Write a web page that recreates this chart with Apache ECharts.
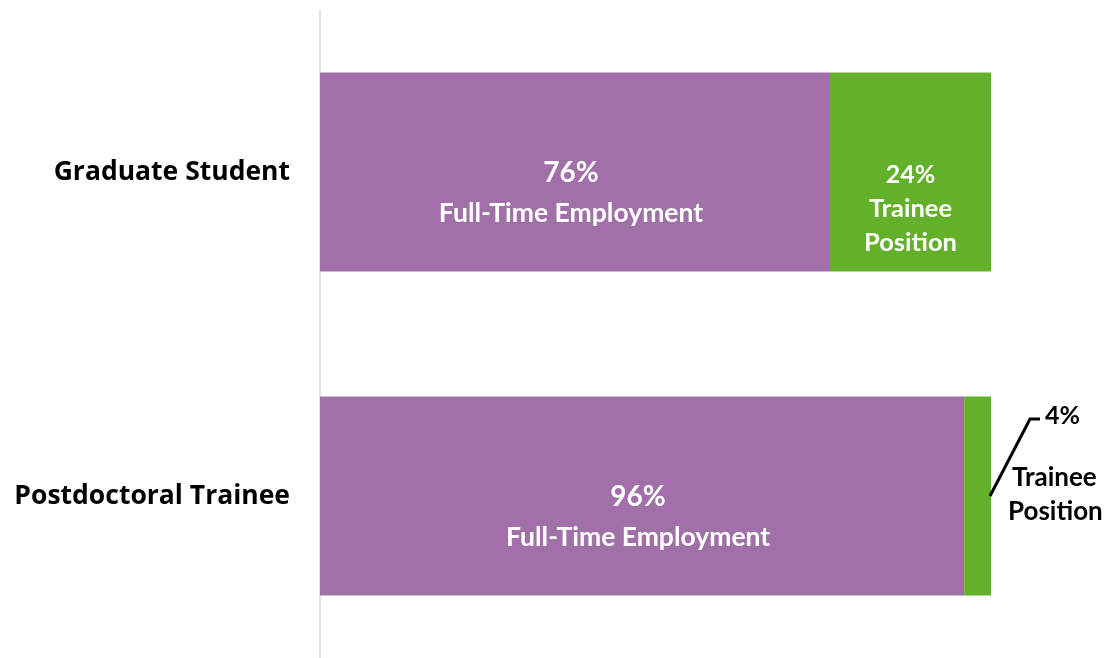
<!DOCTYPE html>
<html>
<head>
<meta charset="utf-8">
<title>Employment outcomes by trainee type</title>
<script src="https://cdn.jsdelivr.net/npm/echarts@6/dist/echarts.min.js"></script>
<style>
  html, body { margin: 0; padding: 0; background: #ffffff; }
  #chart { width: 1110px; height: 658px; }
</style>
</head>
<body>
<div id="chart"></div>
<script>
// Trainee groups (top to bottom)
const categories = ['Graduate Student', 'Postdoctoral Trainee'];
// Share of each group, in percent
const fullTimeEmployment = [76, 96];
const traineePosition = [24, 4];

const PURPLE = '#A170A8';
const GREEN = '#63B02A';
const FONT = 'Lato, "Open Sans", sans-serif';

const chart = echarts.init(document.getElementById('chart'), null, { renderer: 'canvas' });

function insideLabel(pct, text, offsetY) {
  return {
    show: true,
    position: 'inside',
    offset: [-4, offsetY],
    formatter: '{v|' + pct + '%}\n{t|' + text + '}',
    rich: {
      v: { color: '#fff', fontFamily: FONT, fontWeight: 'bold', fontSize: 28, lineHeight: 41 },
      t: { color: '#fff', fontFamily: FONT, fontWeight: 'bold', fontSize: 26.5, lineHeight: 41 }
    }
  };
}

const option = {
  animation: false,
  backgroundColor: '#ffffff',
  grid: { left: 320, right: 119, top: 10, bottom: 0, containLabel: false },
  xAxis: { type: 'value', min: 0, max: 100, show: false },
  yAxis: {
    type: 'category',
    data: categories,
    inverse: true,
    axisLine: { show: true, lineStyle: { color: '#D9D9D9', width: 1.5 } },
    axisTick: { show: false },
    axisLabel: {
      margin: 30,
      color: '#000',
      fontFamily: '"Open Sans", sans-serif',
      fontWeight: 'bold',
      fontSize: 26.5
    }
  },
  series: [
    {
      name: 'Full-Time Employment',
      type: 'bar',
      stack: 'total',
      barWidth: 199,
      itemStyle: { color: PURPLE },
      data: fullTimeEmployment.map(v => ({
        value: v,
        label: insideLabel(v, 'Full-Time Employment', 21)
      }))
    },
    {
      name: 'Trainee Position',
      type: 'bar',
      stack: 'total',
      barWidth: 199,
      itemStyle: { color: GREEN },
      data: [
        {
          value: traineePosition[0],
          label: {
            show: true,
            position: 'inside',
            offset: [0, 37],
            formatter: '{v|' + traineePosition[0] + '%}\n{t|Trainee}\n{t|Position}',
            rich: {
              v: { color: '#fff', fontFamily: FONT, fontWeight: 'bold', fontSize: 25, lineHeight: 34 },
              t: { color: '#fff', fontFamily: FONT, fontWeight: 'bold', fontSize: 25.5, lineHeight: 34 }
            }
          }
        },
        {
          value: traineePosition[1],
          label: {
            show: true,
            position: 'right',
            distance: 17,
            offset: [0, -31],
            formatter: '{v|' + traineePosition[1] + '%}\n{s| }\n{u|Trainee}\n{t|Position}',
            rich: {
              v: { color: '#000', fontFamily: FONT, fontWeight: 'bold', fontSize: 25, lineHeight: 30, padding: [0, 0, 0, 37] },
              s: { fontSize: 10, lineHeight: 30 },
              u: { color: '#000', fontFamily: FONT, fontWeight: 'bold', fontSize: 26, lineHeight: 34, padding: [0, 0, 0, 4] },
              t: { color: '#000', fontFamily: FONT, fontWeight: 'bold', fontSize: 26, lineHeight: 34 }
            }
          }
        }
      ]
    }
  ]
};

chart.setOption(option);

// Leader line for the small 4% segment, anchored to the end of its bar
function drawLeader() {
  const end = chart.convertToPixel({ xAxisIndex: 0, yAxisIndex: 0 }, [100, categories[1]]);
  const x0 = end[0] - 1, y0 = end[1];
  chart.setOption({
    graphic: [{
      type: 'polyline',
      shape: { points: [[x0, y0], [x0 + 40, y0 - 77], [x0 + 50, y0 - 77]] },
      style: { stroke: '#000', lineWidth: 3, fill: null },
      z: 10
    }]
  });
}
drawLeader();
</script>
</body>
</html>
